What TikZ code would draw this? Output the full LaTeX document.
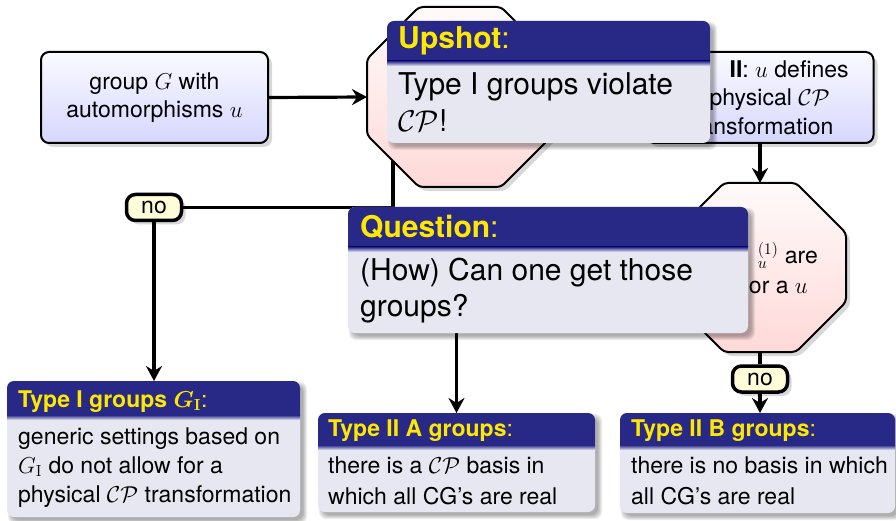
\documentclass[tikz,border=0pt]{standalone}
\usepackage{fix-cm}
\usepackage[no-math]{fontspec}
\setmainfont{TeX Gyre Heros}
\usetikzlibrary{arrows.meta,shadows}
\definecolor{hdr}{RGB}{40,40,135}
\definecolor{ttl}{RGB}{255,232,0}
\definecolor{bdy}{RGB}{231,231,242}
\newcommand\fsm{\fontsize{23}{28.5}\selectfont}
\newcommand\flg{\fontsize{30}{37}\selectfont}
% beamer-like block: name, x1, y1, x2, y2, header height
\newcommand\bblk[6]{%
  \node[inner sep=0pt,outer sep=0pt,minimum width={(#4-#2)*1pt},minimum height={(#5-#3)*1pt}] (#1) at ({(#2+#4)/2},{(#3+#5)/2}) {};
  \foreach \ee in {3,2,1,0,-1}{\fill[black,opacity=0.07,rounded corners=7pt] ({#2+4-\ee},{#3+4-\ee}) rectangle ({#4+4+\ee},{#5+4+\ee});}
  \fill[bdy,rounded corners=7pt] (#2,#3) rectangle (#4,#5);
  \begin{scope}
    \clip (#2,#3) rectangle (#4,{#3+#6});
    \fill[hdr,rounded corners=7pt] (#2,#3) rectangle (#4,#5);
  \end{scope}
  \shade[top color=hdr,bottom color=bdy] (#2,{#3+#6}) rectangle (#4,{#3+#6+5});
}
% octagon: name, cx, cy, half width, half height, cut
\newcommand\octa[6]{%
  \node[inner sep=0pt,outer sep=0pt,minimum width={2*#4*1pt},minimum height={2*#5*1pt}] (#1) at (#2,#3) {};
  \path[octo] ({#2-#4+#6},{#3-#5}) -- ({#2+#4-#6},{#3-#5}) -- ({#2+#4},{#3-#5+#6}) -- ({#2+#4},{#3+#5-#6})
    -- ({#2+#4-#6},{#3+#5}) -- ({#2-#4+#6},{#3+#5}) -- ({#2-#4},{#3+#5-#6}) -- ({#2-#4},{#3-#5+#6}) -- cycle;
}
\begin{document}
\begin{tikzpicture}[x=1pt,y=-1pt,
  >={Stealth[length=15pt,width=16pt,inset=5pt]},
  conn/.style={line width=3.2pt},
  shad/.style={drop shadow={opacity=0.3,shadow xshift=4pt,shadow yshift=-4pt}},
  fbox/.style={draw,line width=2pt,rounded corners=8pt,top color=blue!2,bottom color=blue!16,shad,align=center,font=\fsm,inner sep=0pt,minimum width=227pt,minimum height=91pt},
  octo/.style={draw,line width=2pt,rounded corners=4pt,top color=red!2,bottom color=red!15,shad},
  nolab/.style={draw,line width=3.5pt,rounded corners=9pt,fill=yellow!15,minimum width=55pt,minimum height=26pt,inner sep=0pt,font=\fsm,shad},
  txt/.style={inner sep=0pt,anchor=base west,font=\fsm},
  ltxt/.style={inner sep=0pt,anchor=base west,font=\flg}
]
\fill[white] (0,0) rectangle (896,521);
\useasboundingbox (0,0) rectangle (896,521);

% flowchart nodes
\node[fbox] (grp) at (154.5,97.5) {group $G$ with\\automorphisms $u$};
\octa{oct1}{460}{97}{93}{90}{52}
\coordinate (o1out) at (393,161);
\node[fbox] (typ2) at (760,97.5) {\phantom{\textbf{Type}}\textbf{ II}: $u$ defines\\a physical $\mathcal{CP}$\\transformation};
\octa{oct2}{760}{267.5}{86}{84.5}{50}
\node[inner sep=0pt,anchor=base east,font=\fsm] (o2a) at (818,263) {${}^{(1)}_{u}$ are};
\node[inner sep=0pt,anchor=base east,font=\fsm] (o2b) at (808,293) {or a $u$};

% result blocks
\bblk{tI}{7}{381}{300}{517}{34}
\node[txt,text=ttl] (tIt) at (18,407) {{\bfseries\boldmath Type I groups $G_{\mathrm{I}}$}:};
\node[txt] (tIa) at (18,444) {generic settings based on};
\node[txt] (tIb) at (18,473) {$G_{\mathrm{I}}$ do not allow for a};
\node[txt] (tIc) at (18,502) {physical $\mathcal{CP}$ transformation};

\bblk{tA}{318}{413}{595}{512}{32}
\node[txt,text=ttl] (tAt) at (328,436) {\textbf{Type II A groups}:};
\node[txt] (tAa) at (328,473) {there is a $\mathcal{CP}$ basis in};
\node[txt] (tAb) at (328,504) {which all CG's are real};

\bblk{tB}{620}{413}{895}{513}{32}
\node[txt,text=ttl] (tBt) at (631,436) {\textbf{Type II B groups}:};
\node[txt] (tBa) at (631,473) {there is no basis in which};
\node[txt] (tBb) at (631,504) {all CG's are real};

% labels
\node[nolab] (no1) at (154,207.5) {no};
\node[nolab] (no2) at (760,379) {no};

% connectors
\draw[conn,->] (grp.east) -- (oct1.west);
\draw[conn] (o1out) |- (no1.east);
\draw[conn,->] (no1.south) -- (no1.south |- tI.north);
\draw[conn,->] (typ2.south) -- (oct2.north);
\draw[conn] (oct2.south) -- (oct2.south |- no2.north);
\draw[conn,->] (no2.south) -- (no2.south |- tB.north);
\draw[conn,->] (oct2.west) -| (tA.north);

% overlay blocks
\bblk{ups}{387}{21}{710}{143}{40}
\node[ltxt,text=ttl] (upt) at (398,49) {\textbf{Upshot}:};
\node[ltxt] (upa) at (398,95) {Type I groups violate};
\node[ltxt] (upb) at (398,132) {$\mathcal{CP}$!};

\bblk{que}{348}{207}{748}{333}{40}
\node[ltxt,text=ttl] (qut) at (360,237) {\textbf{Question}:};
\node[ltxt] (qua) at (360,280) {(How) Can one get those};
\node[ltxt] (qub) at (360,316) {groups?};
\end{tikzpicture}
\end{document}
